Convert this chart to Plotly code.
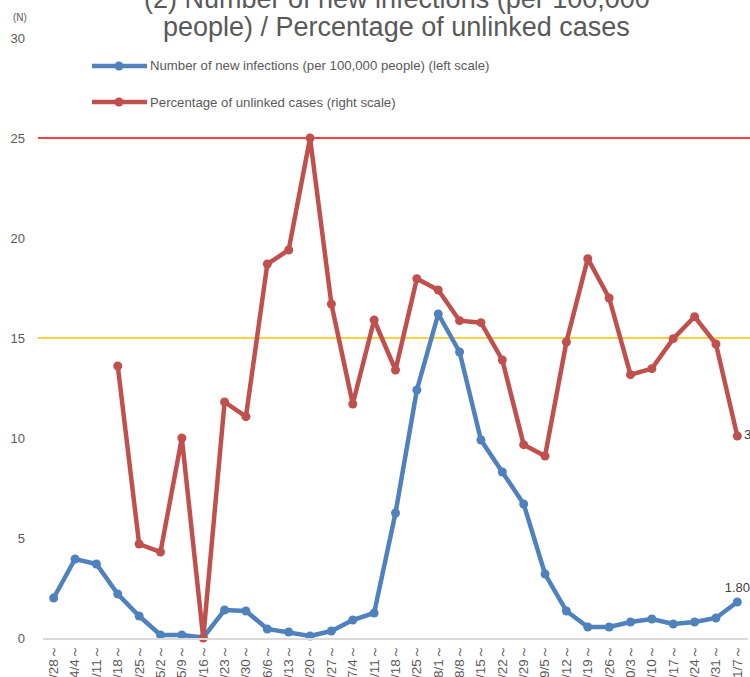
import plotly.graph_objects as go

# Week start dates (2020)
weeks = ["3/28～", "4/4～", "4/11～", "4/18～", "4/25～", "5/2～", "5/9～", "5/16～",
         "5/23～", "5/30～", "6/6～", "6/13～", "6/20～", "6/27～", "7/4～", "7/11～",
         "7/18～", "7/25～", "8/1～", "8/8～", "8/15～", "8/22～", "8/29～", "9/5～",
         "9/12～", "9/19～", "9/26～", "10/3～", "10/10～", "10/17～", "10/24～",
         "10/31～", "11/7～"]

# New infections per 100,000 people (left scale)
new_infections = [2.0, 3.95, 3.7, 2.2, 1.1, 0.15, 0.15, 0.03, 1.4, 1.35, 0.45,
                  0.3, 0.1, 0.35, 0.9, 1.25, 6.25, 12.4, 16.2, 14.3, 9.9, 8.3,
                  6.7, 3.2, 1.35, 0.55, 0.55, 0.8, 0.95, 0.7, 0.8, 1.0, 1.80]

# Percentage of cases with unknown infection route (right scale, %)
unlinked_pct = [None, None, None, 40.8, 14.1, 12.9, 30.0, 0.0, 35.4, 33.2,
                56.1, 58.2, 75.0, 50.1, 35.1, 47.7, 40.2, 53.9, 52.2, 47.6,
                47.3, 41.7, 29.0, 27.3, 44.4, 56.9, 51.0, 39.5, 40.4, 44.9,
                48.2, 44.1, 30.3]

# Stage thresholds on the left scale
stage4_level = 25
stage3_level = 15

LEFT_MAX = 30
RIGHT_MAX = 90

BLUE = "#4F81BD"
RED = "#C0504D"
GREY = "#595959"
FONT = "Liberation Sans"

W, H = 750, 677
ML, MR, MT, MB = 43, 2, 38, 39
PW, PH = W - ML - MR, H - MT - MB


def px_x(px):
    return (px - ML) / PW


def px_y(py):
    return (H - MB - py) / PH


blue_text = [""] * (len(new_infections) - 1) + [f"{new_infections[-1]:.2f}"]
red_text = [""] * (len(unlinked_pct) - 1) + [f"{unlinked_pct[-1]:.1f}%"]

fig = go.Figure()
fig.add_trace(go.Scatter(
    x=weeks, y=new_infections, mode="lines+markers+text",
    line=dict(color=BLUE, width=4.5), marker=dict(color=BLUE, size=9),
    text=blue_text, textposition="top center",
    textfont=dict(family=FONT, size=13, color="#404040"),
    showlegend=False, cliponaxis=False,
))
fig.add_trace(go.Scatter(
    x=weeks, y=unlinked_pct, yaxis="y2", mode="lines+markers+text",
    line=dict(color=RED, width=4.5), marker=dict(color=RED, size=9),
    text=red_text, textposition="middle right",
    textfont=dict(family=FONT, size=13, color="#404040"),
    showlegend=False, cliponaxis=False, connectgaps=False,
))

shapes = []
for level, colour in ((stage4_level, "#FF0000"), (stage3_level, "#FFC000")):
    yp = level / LEFT_MAX
    shapes.append(dict(type="line", xref="paper", yref="paper",
                       x0=px_x(38), x1=1.05, y0=yp, y1=yp,
                       line=dict(color=colour, width=1.6), layer="below"))

annotations = []
# Custom legend
legend_items = [("Number of new infections (per 100,000 people) (left scale)", BLUE, 66),
                ("Percentage of unlinked cases (right scale)", RED, 102)]
for label, colour, py in legend_items:
    shapes.append(dict(type="line", xref="paper", yref="paper",
                       x0=px_x(92), x1=px_x(147), y0=px_y(py), y1=px_y(py),
                       line=dict(color=colour, width=4.5)))
    shapes.append(dict(type="circle", xref="paper", yref="paper",
                       xsizemode="pixel", ysizemode="pixel",
                       xanchor=px_x(119), yanchor=px_y(py),
                       x0=-4.5, x1=4.5, y0=-4.5, y1=4.5,
                       fillcolor=colour, line=dict(color=colour, width=0)))
    annotations.append(dict(xref="paper", yref="paper", x=px_x(148), y=px_y(py),
                            xanchor="left", yanchor="middle", showarrow=False,
                            text=label, font=dict(family=FONT, size=13.2, color=GREY)))

# Title (two lines)
annotations.append(dict(xref="paper", yref="paper", x=px_x(397), y=px_y(-1),
                        xanchor="center", yanchor="middle", showarrow=False,
                        text="(2) Number of new infections (per 100,000",
                        font=dict(family=FONT, size=27, color=GREY)))
annotations.append(dict(xref="paper", yref="paper", x=px_x(397), y=px_y(27),
                        xanchor="center", yanchor="middle", showarrow=False,
                        text="people) / Percentage of unlinked cases",
                        font=dict(family=FONT, size=27, color=GREY)))
annotations.append(dict(xref="paper", yref="paper", x=px_x(20), y=px_y(17),
                        xanchor="center", yanchor="middle", showarrow=False,
                        text="(N)", font=dict(family=FONT, size=10, color=GREY)))

fig.update_layout(
    width=W, height=H,
    margin=dict(l=ML, r=MR, t=MT, b=MB, pad=0, autoexpand=False),
    paper_bgcolor="white", plot_bgcolor="white",
    showlegend=False,
    xaxis=dict(type="category", range=[-0.5, len(weeks) - 0.5],
               tickangle=-90, showgrid=False, zeroline=False, automargin=False,
               showline=True, linecolor="#D9D9D9", linewidth=1.5, ticks="",
               tickfont=dict(family=FONT, size=13.5, color=GREY)),
    yaxis=dict(range=[0, LEFT_MAX], dtick=5, showgrid=False, zeroline=False,
               showline=False, ticks="", ticklabelstandoff=17, automargin=False,
               tickfont=dict(family=FONT, size=13, color=GREY)),
    yaxis2=dict(range=[0, RIGHT_MAX], overlaying="y", side="right",
                showgrid=False, zeroline=False, showticklabels=False,
                showline=False, ticks="", automargin=False),
    shapes=shapes, annotations=annotations,
)

fig.write_html("out.html")
